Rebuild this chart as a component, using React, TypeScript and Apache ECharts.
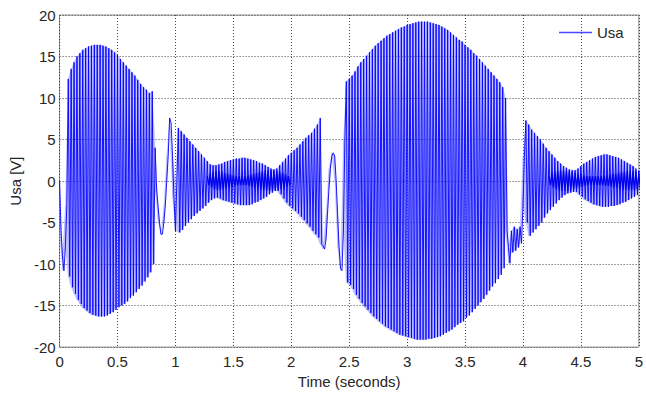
import React, { useEffect, useRef } from "react";
import * as echarts from "echarts";

// Sampling grid of the envelope readings (seconds)
const STEP = 0.025;

// Upper peak of each oscillation, read at t = i * STEP
const upper: number[] = [
  0, -9, -8, 12.3, 13.5, 14.3, 15.0, 15.4, 15.8, 16.0,
  16.2, 16.3, 16.4, 16.4, 16.4, 16.3, 16.2, 16.0, 15.8, 15.5,
  15.2, 14.7, 14.3, 13.9, 13.5, 13.1, 12.7, 12.2, 11.7, 11.3,
  11.0, 10.6, 10.8, 4, -3, -6.4, -5, 0, 7.6, 3,
  -6, 6.4, 6.0, 5.6, 5.2, 4.8, 4.4, 4.0, 3.6, 3.2,
  2.8, 2.4, 2.0, 1.9, 1.9, 2.0, 2.1, 2.3, 2.4, 2.5,
  2.6, 2.7, 2.7, 2.8, 2.8, 2.7, 2.6, 2.5, 2.4, 2.2,
  2.1, 1.9, 1.7, 1.5, 1.4, 1.5, 1.9, 2.3, 2.7, 3.1,
  3.4, 3.7, 4.0, 4.4, 4.8, 5.2, 5.5, 5.8, 6.3, 6.8,
  7.6, -7.8, -7, -1, 3, 3, -4, -10.5, -6, 12,
  12.3, 12.7, 13.2, 13.8, 14.3, 14.7, 15.1, 15.5, 15.9, 16.3,
  16.6, 16.9, 17.2, 17.5, 17.7, 17.9, 18.1, 18.3, 18.5, 18.6,
  18.8, 18.9, 19.0, 19.1, 19.2, 19.2, 19.2, 19.2, 19.1, 19.0,
  18.9, 18.8, 18.6, 18.4, 18.2, 17.9, 17.6, 17.3, 17.0, 16.8,
  16.4, 16.1, 15.8, 15.4, 15.1, 14.7, 14.3, 13.9, 13.5, 13.1,
  12.7, 12.3, 11.9, 11.3, 10.0, -8, -6, -5.5, -5.8, -5.5,
  -3, 7.3, 6.8, 6.2, 5.8, 5.4, 5.0, 4.5, 4.0, 3.6,
  3.2, 2.8, 2.4, 2.1, 1.8, 1.6, 1.4, 1.3, 1.3, 1.5,
  1.8, 2.1, 2.3, 2.5, 2.7, 2.9, 3.0, 3.1, 3.2, 3.2,
  3.1, 3.0, 2.9, 2.8, 2.6, 2.4, 2.2, 2.0, 1.8, 1.5,
  1.3,
];

// Lower peak of each oscillation, read at t = i * STEP + STEP / 2
const lower: number[] = [
  -6, -10.8, -3, -11.5, -12.8, -13.6, -14.3, -14.8, -15.3, -15.6,
  -15.9, -16.1, -16.2, -16.3, -16.3, -16.3, -16.2, -16.0, -15.8, -15.5,
  -15.2, -15.0, -14.8, -14.5, -14.1, -13.8, -13.4, -13.0, -12.6, -12.1,
  -11.6, -11.0, -10.0, -1, -5, -6.4, -3, 3, 7, -2,
  0, -6.2, -5.9, -5.4, -5.0, -4.6, -4.2, -3.9, -3.6, -3.3,
  -3.0, -2.6, -2.3, -2.1, -2.0, -2.1, -2.3, -2.4, -2.5, -2.6,
  -2.7, -2.8, -2.9, -2.9, -2.9, -2.9, -2.8, -2.6, -2.5, -2.3,
  -2.1, -1.9, -1.6, -1.4, -1.2, -1.2, -1.6, -2.1, -2.6, -3.0,
  -3.3, -3.6, -3.9, -4.3, -4.7, -5.1, -5.5, -6.0, -6.4, -6.8,
  -7.6, -8.2, -4, 1.5, 3.4, 0, -8, -10.8, 5, -12.2,
  -12.5, -13.0, -13.7, -14.2, -14.7, -15.1, -15.5, -15.9, -16.3, -16.6,
  -16.9, -17.2, -17.5, -17.7, -17.9, -18.1, -18.3, -18.5, -18.6, -18.7,
  -18.8, -18.9, -19.0, -19.1, -19.1, -19.1, -19.1, -19.0, -19.0, -18.9,
  -18.8, -18.7, -18.5, -18.3, -18.1, -17.9, -17.6, -17.3, -17.1, -16.9,
  -16.5, -16.2, -15.8, -15.4, -15.0, -14.6, -14.2, -13.7, -13.2, -12.7,
  -12.3, -11.8, -11.3, -10.5, -6, -9.9, -8.6, -8.4, -8.0, -7.5,
  3, -5, -6.6, -6.2, -5.8, -5.4, -5.0, -4.4, -3.9, -3.5,
  -3.1, -2.7, -2.3, -2.0, -1.7, -1.5, -1.4, -1.3, -1.3, -1.6,
  -1.9, -2.2, -2.4, -2.6, -2.8, -2.9, -3.0, -3.1, -3.1, -3.1,
  -3.0, -3.0, -2.9, -2.8, -2.6, -2.5, -2.3, -2.1, -1.9, -1.7,
];

// Dense inner core of the small-amplitude stretches (same STEP grid)
const coreAStart = 1.275;
const coreAUpper: number[] = [
  0.6, 0.9, 1.1, 1.2, 1.2, 1.1, 1.0, 0.9, 0.8, 0.7,
  0.6, 0.6, 0.6, 0.6, 0.7, 0.8, 0.9, 1.0, 1.1, 1.2,
  1.3, 1.3, 1.3, 1.2, 1.2, 1.1, 1.0, 0.8, 0.6,
];
const coreALower: number[] = [
  -0.5, -0.8, -1.0, -1.1, -1.1, -1.0, -0.9, -0.8, -0.7, -0.6,
  -0.5, -0.5, -0.5, -0.5, -0.6, -0.7, -0.8, -0.9, -1.0, -1.1,
  -1.1, -1.2, -1.2, -1.1, -1.1, -1.0, -0.9, -0.7, -0.5,
];
const coreBStart = 4.225;
const coreBUpper: number[] = [
  0.6, 0.9, 1.1, 1.2, 1.3, 1.3, 1.3, 1.2, 1.1, 1.0,
  0.9, 0.8, 0.7, 0.6, 0.6, 0.6, 0.6, 0.6, 0.6, 0.7,
  0.7, 0.8, 0.9, 0.9, 1.0, 1.1, 1.1, 1.2, 1.2, 1.2,
  1.2, 1.2,
];
const coreBLower: number[] = [
  -0.5, -0.8, -1.0, -1.1, -1.2, -1.2, -1.2, -1.1, -1.0, -0.9,
  -0.8, -0.7, -0.6, -0.5, -0.5, -0.5, -0.5, -0.5, -0.5, -0.6,
  -0.6, -0.7, -0.8, -0.8, -0.9, -1.0, -1.0, -1.1, -1.1, -1.1,
  -1.1, -1.1,
];

const SERIES_NAME = "Usa";
const X_NAME = "Time (seconds)";
const Y_NAME = "Usa [V]";

const FONT = "'Liberation Sans', Arial, sans-serif";

function zigzag(start: number, up: number[], lo: number[], out: any[]) {
  up.forEach((u, i) => {
    const t = start + i * STEP;
    out.push([t, u]);
    if (i < lo.length) out.push([t + STEP / 2, lo[i]]);
  });
}

export default function App() {
  const ref = useRef<HTMLDivElement>(null);

  useEffect(() => {
    if (!ref.current) return;
    document.body.style.margin = "0";
    const chart = echarts.init(ref.current, undefined, { renderer: "svg" });

    const signal: any[] = [];
    zigzag(0, upper, lower, signal);

    const core: any[] = [];
    zigzag(coreAStart, coreAUpper, coreALower, core);
    core.push([coreAStart + coreAUpper.length * STEP + 0.01, null]);
    zigzag(coreBStart, coreBUpper, coreBLower, core);

    // quads of the light band between consecutive envelope readings
    const quads: number[][] = [];
    for (let i = 0; i + 1 < lower.length; i++) {
      const t0 = i * STEP;
      const t1 = (i + 1) * STEP;
      quads.push([
        t0, Math.max(upper[i], lower[i]), Math.min(upper[i], lower[i]),
        t1, Math.max(upper[i + 1], lower[i + 1]), Math.min(upper[i + 1], lower[i + 1]),
      ]);
    }

    const gridLine = { show: true, lineStyle: { color: "#444", type: [1, 2] as any, width: 1 } };

    chart.setOption({
      animation: false,
      backgroundColor: "#fff",
      textStyle: { fontFamily: FONT },
      grid: { left: 57, right: 2, top: 15, bottom: 41, containLabel: false, show: true, borderColor: "#8c8c8c", borderWidth: 1 },
      legend: {
        show: true,
        data: [{ name: SERIES_NAME, icon: "rect" }],
        left: 559,
        top: 25,
        padding: 0,
        itemWidth: 33,
        itemHeight: 1.5,
        itemGap: 5,
        textStyle: { fontFamily: FONT, fontSize: 15, color: "#262626" },
      },
      xAxis: {
        type: "value",
        min: 0,
        max: 5,
        interval: 0.5,
        name: X_NAME,
        nameLocation: "middle",
        nameGap: 24,
        nameTextStyle: { fontFamily: FONT, fontSize: 15, color: "#262626" },
        axisLine: { show: false },
        axisTick: { show: false },
        axisLabel: { margin: 7, fontFamily: FONT, fontSize: 15, color: "#262626" },
        splitLine: gridLine,
      },
      yAxis: {
        type: "value",
        min: -20,
        max: 20,
        interval: 5,
        name: Y_NAME,
        nameLocation: "middle",
        nameGap: 30,
        nameTextStyle: { fontFamily: FONT, fontSize: 15, color: "#262626" },
        axisLine: { show: false },
        axisTick: { show: false },
        axisLabel: { margin: 4, fontFamily: FONT, fontSize: 15, color: "#262626" },
        splitLine: gridLine,
      },
      series: [
        {
          name: "band",
          type: "custom",
          coordinateSystem: "cartesian2d",
          silent: true,
          encode: { x: [0, 3], y: [1, 2, 4, 5] },
          data: quads,
          renderItem: (_params: any, api: any) => {
            const a = api.coord([api.value(0), api.value(1)]);
            const b = api.coord([api.value(3), api.value(4)]);
            const c = api.coord([api.value(3), api.value(5)]);
            const d = api.coord([api.value(0), api.value(2)]);
            return {
              type: "polygon",
              shape: { points: [a, b, c, d] },
              style: { fill: "rgba(110,110,255,0.4)", stroke: "rgba(110,110,255,0.4)", lineWidth: 0.3 },
            };
          },
        },
        {
          name: SERIES_NAME,
          type: "line",
          data: signal,
          symbol: "none",
          showSymbol: false,
          clip: true,
          itemStyle: { color: "#4848ff" },
          lineStyle: { color: "#0000ff", width: 0.9 },
        },
        {
          name: "core",
          type: "line",
          data: core,
          symbol: "none",
          connectNulls: false,
          clip: true,
          silent: true,
          lineStyle: { color: "#0000ee", width: 1.2 },
        },
      ],
    });

    return () => chart.dispose();
  }, []);

  return (
    <div
      ref={ref}
      style={{ position: "absolute", left: 0, top: 0, width: 646, height: 394 }}
    />
  );
}
